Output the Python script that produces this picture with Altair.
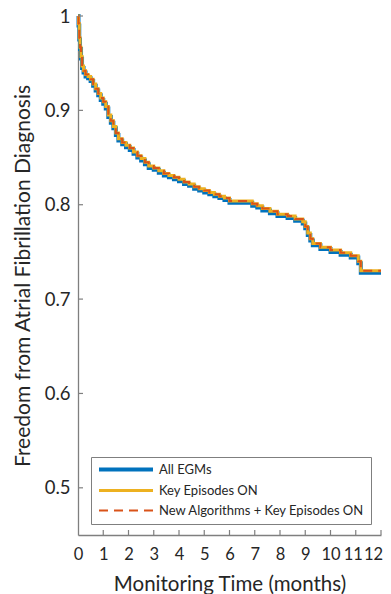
import altair as alt
import pandas as pd

series_names = ["All EGMs", "Key Episodes ON", "New Algorithms + Key Episodes ON"]
series_colors = ["#0072BD", "#EDB120", "#D95319"]

months = [0, 0.02, 0.05, 0.08, 0.12, 0.16, 0.22, 0.3, 0.4, 0.5, 0.6, 0.7, 0.8, 0.9,
          1.0, 1.1, 1.2, 1.3, 1.4, 1.5, 1.6, 1.75, 1.9, 2.05, 2.2, 2.35, 2.5, 2.65,
          2.8, 3.0, 3.2, 3.4, 3.6, 3.8, 4.0, 4.2, 4.4, 4.6, 4.8, 5.0, 5.2, 5.4, 5.6,
          5.8, 6.0, 6.9, 7.1, 7.3, 7.6, 7.9, 8.3, 8.6, 8.9, 9.0, 9.1, 9.2, 9.3, 9.6,
          10.0, 10.4, 10.8, 11.1, 11.2, 12.0]

all_egms = [1.0, 0.99, 0.975, 0.965, 0.955, 0.945, 0.94, 0.936, 0.934, 0.931, 0.926,
            0.921, 0.916, 0.911, 0.907, 0.902, 0.893, 0.887, 0.881, 0.874, 0.868,
            0.864, 0.861, 0.858, 0.854, 0.85, 0.847, 0.843, 0.839, 0.837, 0.834,
            0.831, 0.829, 0.827, 0.825, 0.822, 0.82, 0.817, 0.815, 0.813, 0.811,
            0.809, 0.807, 0.805, 0.802, 0.799, 0.797, 0.794, 0.791, 0.788, 0.786,
            0.783, 0.78, 0.775, 0.768, 0.762, 0.757, 0.753, 0.75, 0.747, 0.744,
            0.738, 0.728, 0.728]

key_episodes = [1.0, 0.992, 0.977, 0.967, 0.957, 0.947, 0.942, 0.938, 0.936, 0.933,
                0.928, 0.923, 0.918, 0.913, 0.909, 0.904, 0.895, 0.889, 0.883, 0.876,
                0.87, 0.866, 0.863, 0.86, 0.856, 0.852, 0.849, 0.845, 0.841, 0.839,
                0.836, 0.833, 0.831, 0.829, 0.827, 0.824, 0.822, 0.819, 0.817, 0.815,
                0.813, 0.811, 0.809, 0.807, 0.804, 0.801, 0.799, 0.796, 0.793, 0.79,
                0.788, 0.785, 0.782, 0.777, 0.77, 0.764, 0.759, 0.755, 0.752, 0.749,
                0.746, 0.74, 0.73, 0.73]

new_algorithms = [1.0, 0.992, 0.977, 0.967, 0.957, 0.947, 0.942, 0.938, 0.936, 0.933,
                  0.928, 0.923, 0.918, 0.913, 0.909, 0.904, 0.895, 0.889, 0.883, 0.876,
                  0.87, 0.866, 0.863, 0.86, 0.856, 0.852, 0.849, 0.845, 0.841, 0.839,
                  0.836, 0.833, 0.831, 0.829, 0.827, 0.824, 0.822, 0.819, 0.817, 0.815,
                  0.813, 0.811, 0.809, 0.807, 0.804, 0.801, 0.799, 0.796, 0.793, 0.79,
                  0.788, 0.785, 0.782, 0.777, 0.77, 0.764, 0.759, 0.755, 0.752, 0.749,
                  0.746, 0.74, 0.73, 0.73]

y_ticks = [0.5, 0.6, 0.7, 0.8, 0.9, 1.0]
x_ticks = list(range(0, 13))

rows = []
for name, vals in zip(series_names, [all_egms, key_episodes, new_algorithms]):
    for i, (m, v) in enumerate(zip(months, vals)):
        rows.append({"series": name, "month": m, "value": v, "order": i})
df = pd.DataFrame(rows)

W, H = 303, 519
FONT = "Lato"
TXT = "#262626"
AX = "#7f7f7f"

x_scale = alt.Scale(domain=[0, 12], nice=False, zero=False)
y_scale = alt.Scale(domain=[0.45, 1.0], nice=False, zero=False)

x_axis = alt.Axis(values=x_ticks, title="Monitoring Time (months)", ticks=False,
                  grid=False, labelPadding=11, titlePadding=12,
                  labelFontSize=16.5, titleFontSize=20.5, labelFlush=False,
                  labelOverlap=False,
                  labelOffset={"condition": [{"test": "datum.value == 12", "value": -8},
                                             {"test": "datum.value == 11", "value": -3}],
                               "value": 0})
y_axis = alt.Axis(values=y_ticks, format="~g", title="Freedom from Atrial Fibrillation Diagnosis",
                  ticks=False, grid=False, labelPadding=8, titlePadding=11,
                  labelFontSize=18.5, titleFontSize=21, labelOverlap=False)

lines = alt.Chart(df).mark_line(interpolate="step-after").encode(
    x=alt.X("month:Q", scale=x_scale, axis=x_axis),
    y=alt.Y("value:Q", scale=y_scale, axis=y_axis),
    color=alt.Color("series:N", scale=alt.Scale(domain=series_names, range=series_colors),
                    legend=alt.Legend(title=None, orient="none", legendX=13, legendY=441,
                                      symbolType="M-1,0H11", symbolSize=81,
                                      labelFontSize=13, labelFont=FONT, labelColor=TXT,
                                      strokeColor=AX, fillColor="white", padding=6,
                                      rowPadding=6, labelOffset=49, labelLimit=400)),
    strokeDash=alt.StrokeDash("series:N", scale=alt.Scale(domain=series_names,
                                                          range=[[1, 0], [1, 0], [9, 6]]),
                              legend=None),
    strokeWidth=alt.StrokeWidth("series:N", scale=alt.Scale(domain=series_names, range=[4, 2, 2]),
                                legend=None),
    order="order:Q",
)

ytick_df = pd.DataFrame({"value": y_ticks})
yticks = alt.Chart(ytick_df).mark_rule(color=AX, strokeWidth=1.2).encode(
    y=alt.Y("value:Q", scale=y_scale, axis=y_axis), x=alt.value(0), x2=alt.value(5))

xtick_df = pd.DataFrame({"month": x_ticks[1:]})
xticks = alt.Chart(xtick_df).mark_rule(color=AX, strokeWidth=1.2).encode(
    x=alt.X("month:Q", scale=x_scale, axis=x_axis), y=alt.value(H), y2=alt.value(H - 5))

chart = alt.layer(lines, yticks, xticks).properties(
    width=W, height=H,
    autosize=alt.AutoSizeParams(type="none"),
    padding={"left": 70, "top": 8, "right": 2, "bottom": 60},
).configure_view(stroke=None).configure_axis(
    domainColor=AX, domainWidth=1.3, labelColor=TXT, titleColor=TXT,
    labelFont=FONT, titleFont=FONT, titleFontWeight="normal", labelOverlap=False,
).configure_legend(labelFont=FONT)

chart.save("out.html", embed_options={"renderer": "svg", "actions": False})
